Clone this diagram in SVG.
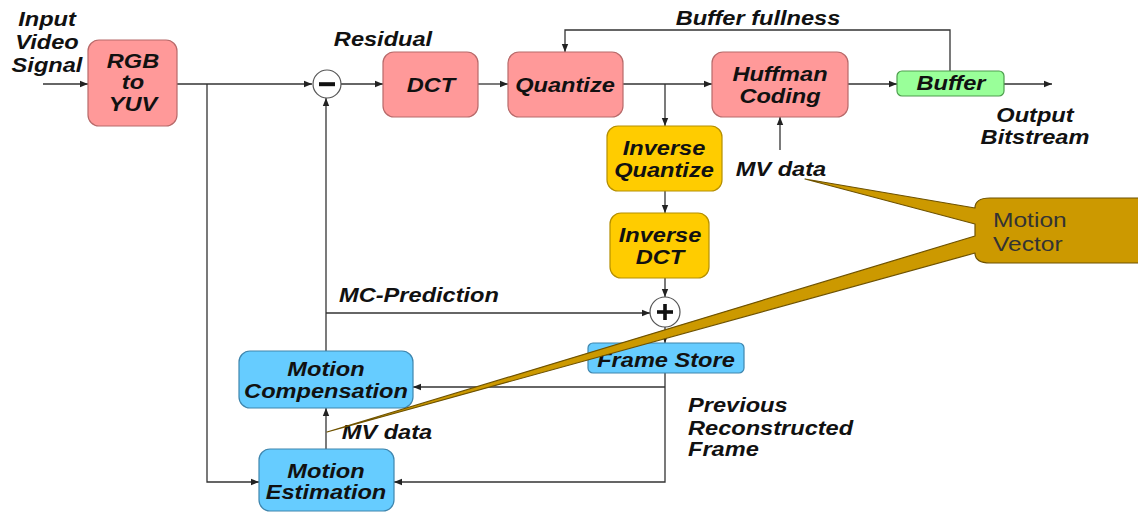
<svg xmlns="http://www.w3.org/2000/svg" width="1138" height="512" viewBox="0 0 1138 512">
  <defs>
    <marker id="ah" viewBox="0 0 10 10" refX="10" refY="5" markerWidth="9" markerHeight="8" markerUnits="userSpaceOnUse" orient="auto">
      <path d="M0,1 L10,5 L0,9 z" fill="#222"/>
    </marker>
    <style>
      .t { font-family: "Liberation Sans", Arial, sans-serif; font-weight: bold; font-style: italic; font-size: 20px; fill: #111; }
      .c { text-anchor: middle; }
      .pink { fill: #FF9999; stroke: #B86A6A; stroke-width: 1.2; }
      .yel { fill: #FFCC00; stroke: #B58F00; stroke-width: 1.2; }
      .blue { fill: #66CCFF; stroke: #3F86AE; stroke-width: 1.2; }
      .green { fill: #99FF99; stroke: #4E9E4E; stroke-width: 1.2; }
      .op { fill: #fff; stroke: #555; stroke-width: 1.2; }
      .wire { fill: none; stroke: #333; stroke-width: 1.3; }
      .arr { marker-end: url(#ah); }
      .mv { font-family: "Liberation Sans", Arial, sans-serif; font-size: 21px; fill: #333; }
    </style>
  </defs>
  <rect width="1138" height="512" fill="#fff"/>

  <!-- connectors -->
  <g id="connectors">
    <path class="wire arr" d="M43,84 H88"/>
    <path class="wire arr" d="M177,84 H312"/>
    <path class="wire arr" d="M207,84 V482 H259"/>
    <path class="wire arr" d="M341,84 H383"/>
    <path class="wire arr" d="M478,84 H508"/>
    <path class="wire arr" d="M623,84 H712"/>
    <path class="wire arr" d="M665,84 V126"/>
    <path class="wire arr" d="M848,84 H897"/>
    <path class="wire arr" d="M1004,84 H1052"/>
    <path class="wire arr" d="M950,71 V30 H565 V52"/>
    <path class="wire arr" d="M780,150 V117"/>
    <path class="wire arr" d="M665,191 V213"/>
    <path class="wire arr" d="M665,278 V297"/>
    <path class="wire arr" d="M326,313 H650"/>
    <path class="wire arr" d="M326,351 V98"/>
    <path class="wire arr" d="M665,327 V343"/>
    <path class="wire arr" d="M665,373 V482 H394"/>
    <path class="wire arr" d="M665,387 H413"/>
    <path class="wire arr" d="M326,449 V408"/>
  </g>

  <!-- free labels -->
  <g id="labels">
    <text class="t c" transform="translate(47,26) scale(1.18,1)">Input</text>
    <text class="t c" transform="translate(47,49) scale(1.18,1)">Video</text>
    <text class="t c" transform="translate(47,72) scale(1.18,1)">Signal</text>
    <text class="t c" transform="translate(383,46) scale(1.18,1)">Residual</text>
    <text class="t c" transform="translate(758,25) scale(1.18,1)">Buffer fullness</text>
    <text class="t c" transform="translate(1035,122) scale(1.18,1)">Output</text>
    <text class="t c" transform="translate(1035,144) scale(1.18,1)">Bitstream</text>
    <text class="t c" transform="translate(781,176) scale(1.18,1)">MV data</text>
    <text class="t c" transform="translate(419,302) scale(1.18,1)">MC-Prediction</text>
    <text class="t c" transform="translate(387,439) scale(1.18,1)">MV data</text>
    <text class="t" transform="translate(688,412) scale(1.18,1)">Previous</text>
    <text class="t" transform="translate(688,435) scale(1.18,1)">Reconstructed</text>
    <text class="t" transform="translate(688,456) scale(1.18,1)">Frame</text>
  </g>

  <g id="rgb2yuv">
    <rect class="pink" x="88" y="40" width="89" height="86" rx="11"/>
    <text class="t c" transform="translate(133,68) scale(1.18,1)">RGB</text>
    <text class="t c" transform="translate(133,89) scale(1.18,1)">to</text>
    <text class="t c" transform="translate(133,111) scale(1.18,1)">YUV</text>
  </g>

  <g id="subtract">
    <circle class="op" cx="327" cy="84" r="14"/>
    <rect x="319" y="82.2" width="16" height="4" fill="#111"/>
  </g>

  <g id="dct">
    <rect class="pink" x="383" y="52" width="95" height="65" rx="11"/>
    <text class="t c" transform="translate(431,92) scale(1.18,1)">DCT</text>
  </g>

  <g id="quantize">
    <rect class="pink" x="508" y="52" width="115" height="65" rx="11"/>
    <text class="t c" transform="translate(565,92) scale(1.18,1)">Quantize</text>
  </g>

  <g id="huffman">
    <rect class="pink" x="712" y="52" width="136" height="65" rx="11"/>
    <text class="t c" transform="translate(780,81) scale(1.18,1)">Huffman</text>
    <text class="t c" transform="translate(780,103) scale(1.18,1)">Coding</text>
  </g>

  <g id="buffer">
    <rect class="green" x="897" y="71" width="107" height="25" rx="5"/>
    <text class="t c" transform="translate(951,90) scale(1.18,1)">Buffer</text>
  </g>

  <g id="inverse-quantize">
    <rect class="yel" x="607" y="126" width="115" height="65" rx="11"/>
    <text class="t c" transform="translate(664,155) scale(1.18,1)">Inverse</text>
    <text class="t c" transform="translate(664,177) scale(1.18,1)">Quantize</text>
  </g>

  <g id="inverse-dct">
    <rect class="yel" x="610" y="213" width="99" height="65" rx="11"/>
    <text class="t c" transform="translate(660,242) scale(1.18,1)">Inverse</text>
    <text class="t c" transform="translate(660,264) scale(1.18,1)">DCT</text>
  </g>

  <g id="add">
    <circle class="op" cx="665" cy="312" r="15"/>
    <rect x="657" y="310.2" width="16" height="3.6" fill="#111"/>
    <rect x="663.2" y="304" width="3.6" height="16" fill="#111"/>
  </g>

  <g id="frame-store">
    <rect class="blue" x="588" y="343" width="156" height="30" rx="5"/>
    <text class="t c" transform="translate(666,367) scale(1.18,1)">Frame Store</text>
  </g>

  <g id="motion-compensation">
    <rect class="blue" x="239" y="351" width="174" height="57" rx="11"/>
    <text class="t c" transform="translate(326,376) scale(1.18,1)">Motion</text>
    <text class="t c" transform="translate(326,398) scale(1.18,1)">Compensation</text>
  </g>

  <g id="motion-estimation">
    <rect class="blue" x="259" y="449" width="135" height="62" rx="11"/>
    <text class="t c" transform="translate(326,478) scale(1.18,1)">Motion</text>
    <text class="t c" transform="translate(326,499) scale(1.18,1)">Estimation</text>
  </g>

  <!-- callout pointing at both MV data paths -->
  <g id="motion-vector">
    <path d="M805,179 L975,208 C975,201 980,198 990,198 L1150,198 L1150,263 L990,263 C980,263 975,260 975,253 L327,432 L975,236 L975,224 Z" fill="#CC9900" stroke="#6E5200" stroke-width="1.2" stroke-linejoin="round"/>
    <text class="mv" transform="translate(993,227) scale(1.17,1)">Motion</text>
    <text class="mv" transform="translate(993,251) scale(1.17,1)">Vector</text>
  </g>
</svg>
